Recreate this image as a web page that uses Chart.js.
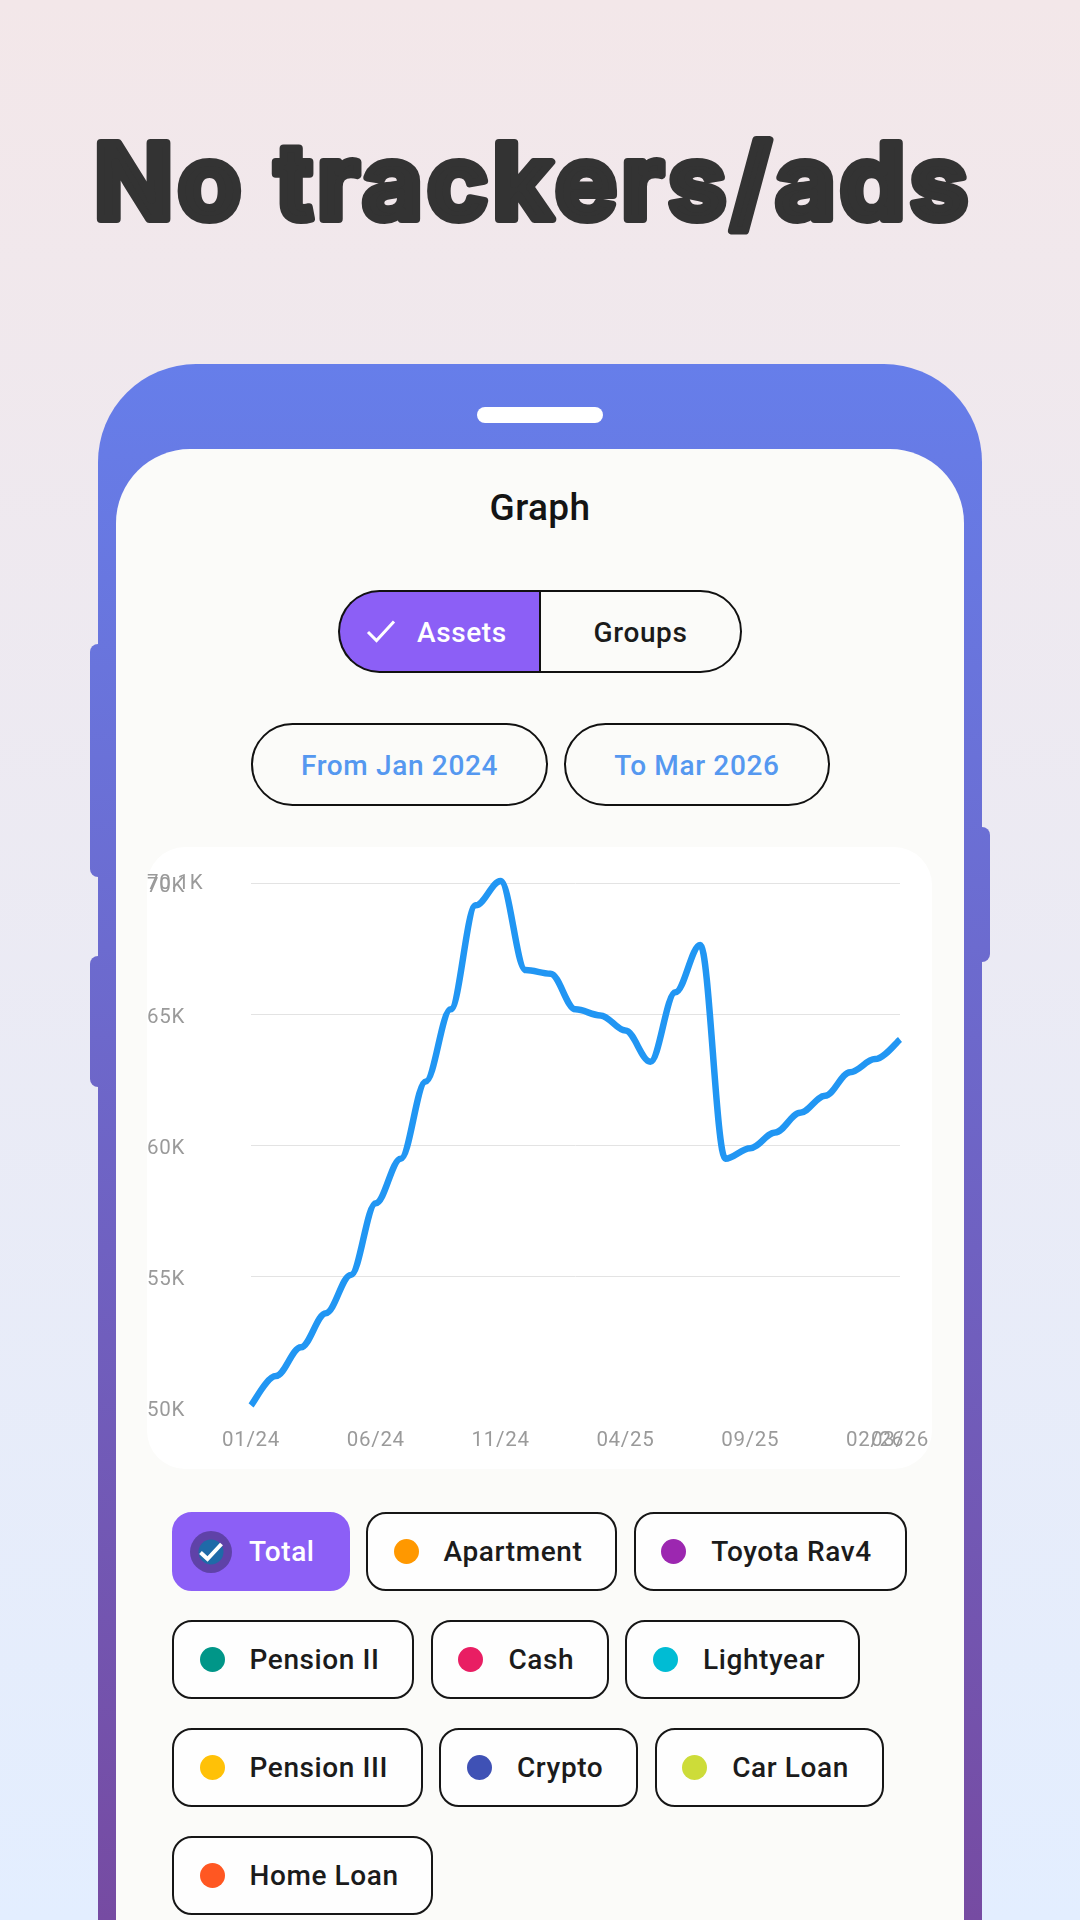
<!DOCTYPE html>
<html>
<head>
<meta charset="utf-8">
<script src="https://cdn.jsdelivr.net/npm/chart.js@4"></script>
<style>
html,body{margin:0;padding:0}
body{width:1080px;height:1920px;overflow:hidden;position:relative;font-family:Roboto,sans-serif;background:linear-gradient(180deg,#f3e7e9 0%,#e3eeff 100%)}
.abs{position:absolute;box-sizing:border-box}
.grad{background-image:linear-gradient(180deg,#667eea,#764ba2);background-size:100% 1556px;background-repeat:no-repeat}
#title{left:0;top:0;width:1080px;height:300px}
#phone{left:98px;top:364px;width:884px;height:1660px;border-radius:98px 98px 0 0}
#pill{left:477px;top:407px;width:126px;height:16px;border-radius:8px;background:#fff}
#screen{left:116px;top:449px;width:848px;height:1600px;border-radius:74px 74px 0 0;background:#fbfbf9}
#heading{left:116px;width:848px;top:485px;text-align:center;font-size:37px;font-weight:500;letter-spacing:.4px;color:#141414;line-height:46px}
.seg{display:flex;align-items:center;justify-content:center;font-size:28px;font-weight:500;letter-spacing:.6px;border:2px solid #111;padding-top:2px}
#segA{left:338px;top:590px;width:203px;height:83px;border-radius:42px 0 0 42px;background:#8c5ff6;color:#fff;border-right:none}
#segA span{position:absolute;left:77px}
#segA svg{position:absolute;left:26px;top:27px}
#segB{left:539px;top:590px;width:203px;height:83px;border-radius:0 42px 42px 0;color:#1b1b1b}
.pick{display:flex;align-items:center;justify-content:center;font-size:28px;font-weight:500;letter-spacing:.65px;border:2px solid #111;border-radius:42px;color:#5598f0;top:723px;height:83px;padding-top:2px}
#card{left:147px;top:847px;width:785px;height:622px;border-radius:38px;background:#fff}
#card canvas{display:block}
#chips{left:172px;top:1512px;width:745px;display:flex;flex-wrap:wrap;column-gap:16.5px;row-gap:29px}
.chip{box-sizing:border-box;height:79px;border:2px solid #161616;border-radius:20px;background:#fefefe;display:flex;align-items:center;padding:0 32.8px 0 25.5px;font-size:28px;font-weight:500;letter-spacing:.6px;color:#1b1b1b}
.dot{width:25px;height:25px;border-radius:50%;margin-right:25px;flex:none}
.chip.on{background:#8c5ff6;border-color:#8c5ff6;color:#fff;padding-left:16px;padding-right:33px}
.avatar{width:42px;height:42px;border-radius:50%;background:#5f42a8;display:flex;align-items:center;justify-content:center;margin-right:17px;flex:none}
</style>
</head>
<body>
<svg id="title" class="abs" viewBox="0 0 1080 300">
  <text x="94" y="219" font-family="Inter,'Noto Sans',sans-serif" font-weight="700" font-size="104" fill="#333" stroke="#333" stroke-width="8" stroke-linejoin="round" stroke-linecap="round" textLength="874" lengthAdjust="spacing">No trackers/ads</text>
</svg>

<div class="abs grad" style="left:90px;top:644px;width:12px;height:233px;border-radius:8px 0 0 8px;background-position:0 -280px"></div>
<div class="abs grad" style="left:90px;top:956px;width:12px;height:131px;border-radius:8px 0 0 8px;background-position:0 -592px"></div>
<div class="abs grad" style="left:978px;top:827px;width:12px;height:135px;border-radius:0 8px 8px 0;background-position:0 -463px"></div>
<div id="phone" class="abs grad"></div>
<div id="pill" class="abs"></div>
<div id="screen" class="abs"></div>
<div id="heading" class="abs">Graph</div>

<div id="segA" class="abs seg"><svg width="30" height="24" viewBox="0 0 30 24"><path d="M2 13 L10.5 21.5 L28 2.5" fill="none" stroke="#fff" stroke-width="3"/></svg><span>Assets</span></div>
<div id="segB" class="abs seg">Groups</div>
<div class="abs pick" style="left:251px;width:297px">From Jan 2024</div>
<div class="abs pick" style="left:564px;width:266px">To Mar 2026</div>

<div id="card" class="abs"><canvas id="c" width="786" height="622" style="width:786px;height:622px"></canvas></div>
<div id="chips" class="abs"></div>

<script>
const monthLabels = ["01/24","02/24","03/24","04/24","05/24","06/24","07/24","08/24","09/24","10/24","11/24","12/24","01/25","02/25","03/25","04/25","05/25","06/25","07/25","08/25","09/25","10/25","11/25","12/25","01/26","02/26","03/26"];
const totalValues = [50.08,51.2,52.3,53.6,55.06,57.8,59.5,62.45,65.2,69.17,70.1,66.7,66.56,65.2,64.97,64.39,63.2,65.85,67.66,59.5,59.9,60.5,61.25,61.9,62.8,63.3,64.05];
const shownXTicks = ["01/24","06/24","11/24","04/25","09/25","02/26","03/26"];
const shownYTicks = [50,55,60,65,70,70.1];
const legendNames = ["Apartment","Toyota Rav4","Pension II","Cash","Lightyear","Pension III","Crypto","Car Loan","Home Loan"];
const legendColors = ["#ff9800","#9c27b0","#009688","#e91e63","#00bcd4","#ffc107","#3f51b5","#cddc39","#ff5722"];

const chips = document.getElementById('chips');
const on = document.createElement('div');
on.className = 'chip on';
on.innerHTML = '<span class="avatar"><svg width="28" height="26" viewBox="0 0 28 26"><circle cx="14" cy="13" r="12.5" fill="#1f6aa8"/><path d="M3.5 13.5 L10.5 20 L24.5 5" fill="none" stroke="#fff" stroke-width="4"/></svg></span>Total';
chips.appendChild(on);
legendNames.forEach((n,i)=>{
  const d = document.createElement('div');
  d.className = 'chip';
  const s = document.createElement('span');
  s.className = 'dot'; s.style.background = legendColors[i];
  d.appendChild(s); d.appendChild(document.createTextNode(n));
  chips.appendChild(d);
});

const SMOOTHNESS = 0.35;
const flatKnots = {
  id:'flatKnots',
  beforeDraw(chart){ chart.ctx.letterSpacing = '0.7px'; },
  beforeDatasetDraw(chart,args){
    const line = args.meta.dataset, pts = args.meta.data;
    line.updateControlPoints(chart.chartArea,'x');
    pts.forEach((p,i)=>{
      const prev = pts[i-1]||p, next = pts[i+1]||p;
      const tx = (next.x-prev.x)/2*SMOOTHNESS;
      const ends = i===0||i===pts.length-1;
      const ty = ends ? (next.y-prev.y)/2*SMOOTHNESS : 0;
      p.cp1x = p.x-tx; p.cp1y = p.y-ty;
      p.cp2x = p.x+tx; p.cp2y = p.y+ty;
    });
  }
};

const tickFont = {family:'Roboto',size:20.5,weight:'400'};
new Chart(document.getElementById('c'),{
  type:'line',
  plugins:[flatKnots],
  data:{labels:monthLabels,datasets:[{data:totalValues,borderColor:'#2196f3',borderWidth:6.5,pointRadius:0,tension:0.4,fill:false,clip:false,borderCapStyle:'butt',borderJoinStyle:'round'}]},
  options:{
    responsive:false,animation:false,devicePixelRatio:1,
    layout:{padding:{left:0,top:34,right:33,bottom:0}},
    plugins:{legend:{display:false},tooltip:{enabled:false}},
    scales:{
      x:{
        offset:false,border:{display:false},grid:{display:false,drawTicks:false},
        afterFit(s){s.height=61.5;s.paddingLeft=0;s.paddingRight=0;},
        afterBuildTicks(s){s.ticks=monthLabels.map((l,i)=>({value:i})).filter(t=>shownXTicks.includes(monthLabels[t.value]));},
        ticks:{autoSkip:false,maxRotation:0,minRotation:0,padding:21,color:'#9a9a9a',font:tickFont,callback(v){return monthLabels[v];}}
      },
      y:{
        min:50,max:70.1,border:{display:false},
        grid:{drawTicks:false,lineWidth:1,color(ctx){const v=ctx.tick&&ctx.tick.value;return (v===50||v===70.1)?'rgba(0,0,0,0)':'#e3e3e3';}},
        afterFit(s){s.width=104;s.paddingTop=0;s.paddingBottom=0;},
        afterBuildTicks(s){s.ticks=shownYTicks.map(v=>({value:v}));},
        ticks:{crossAlign:'far',padding:0,color:'#9a9a9a',font:{family:'Roboto',size:20.5,weight:'400',lineHeight:0.3},callback(v){return ['',v+'K'];}}
      }
    }
  }
});
</script>
</body>
</html>
